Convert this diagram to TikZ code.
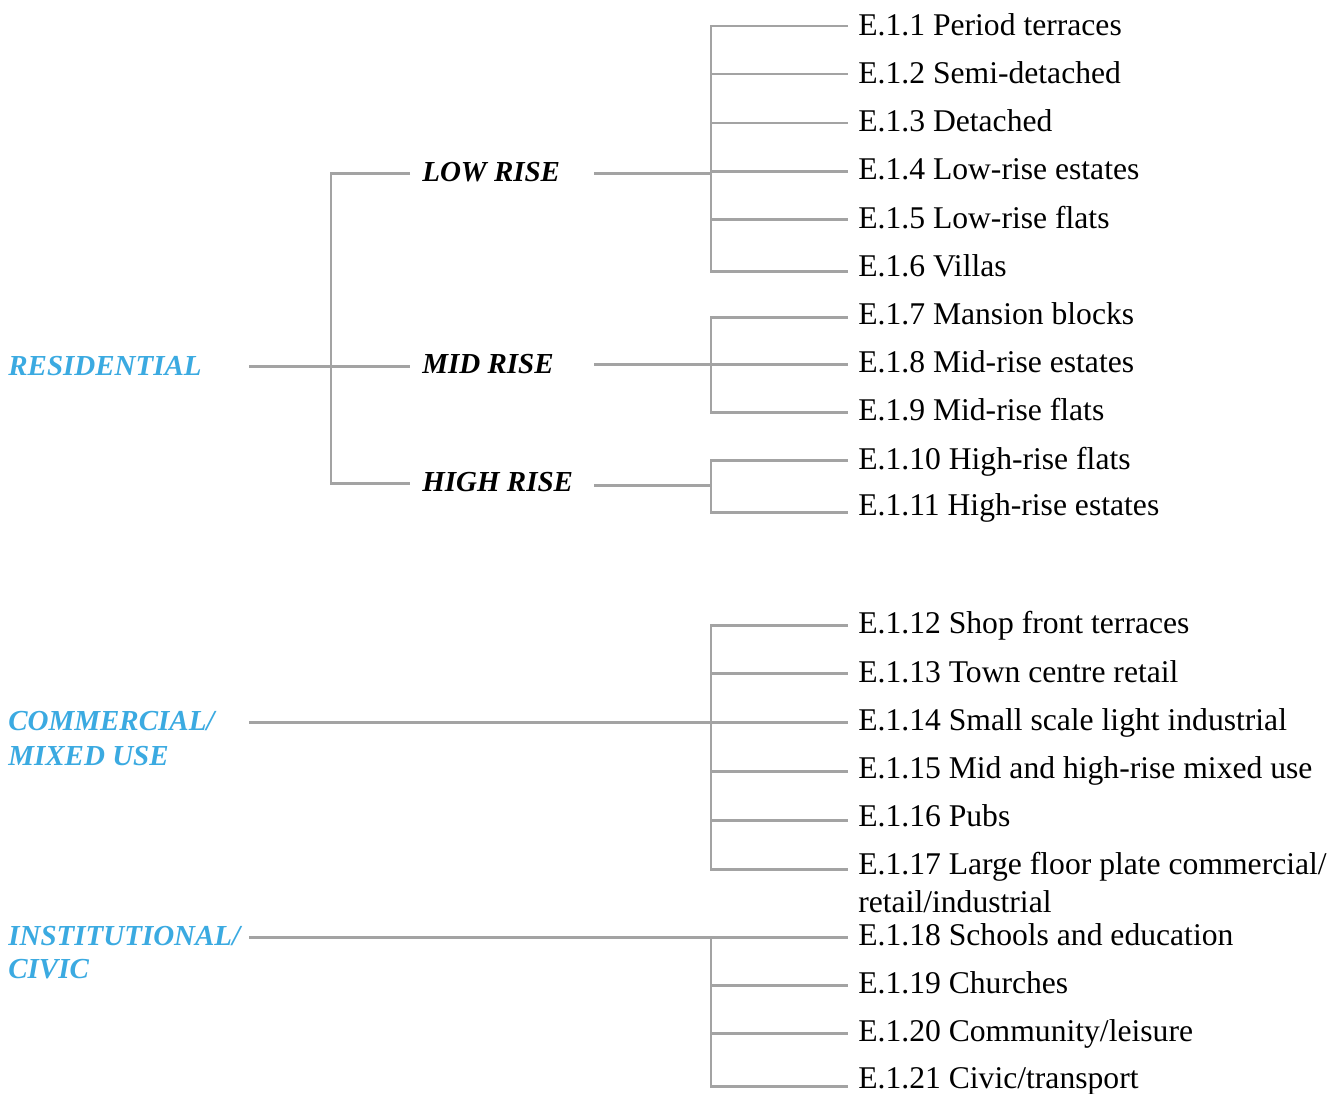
\documentclass[tikz,border=0pt]{standalone}
\usepackage{fontspec}
\setmainfont{Liberation Serif}
\usepackage{tikz}
\usepackage{xcolor}
\definecolor{catblue}{HTML}{3BAAE1}
\definecolor{linkgray}{HTML}{A3A3A3}

\begin{document}
\begin{tikzpicture}[x=0.02cm, y=-0.02cm,
    link/.style={draw=linkgray, line width=1.7pt},
    leaf/.style={anchor=base west, inner sep=0pt, font=\fontsize{18}{21.6}\selectfont},
    sub/.style={anchor=base west, inner sep=0pt, font=\fontsize{16.5}{20}\selectfont\bfseries\itshape},
    cat/.style={sub, text=catblue}]
        \useasboundingbox (0,0) rectangle (1343,1093);
        % main groups
        \node[cat] (res) at (8,375) {RESIDENTIAL};
        \node[cat] (com) at (8,730) {COMMERCIAL/};
        \node[cat] (comb) at (8,765) {MIXED USE};
        \node[cat] (ins) at (8,945) {INSTITUTIONAL/};
        \node[cat] (insb) at (8,978) {CIVIC};
        % residential heights
        \node[sub] (low) at (422,181) {LOW RISE};
        \node[sub] (mid) at (422,373) {MID RISE};
        \node[sub] (high) at (422,491) {HIGH RISE};
        % leaves: number / line y / baseline y / text
        \foreach \n/\y/\b/\t in {1/26/35/Period terraces, 2/74/83/Semi-detached,
            3/123/131/Detached, 4/171/179/Low-rise estates, 5/219/228/Low-rise flats,
            6/271/276/Villas, 7/317/324/Mansion blocks, 8/364/372/Mid-rise estates,
            9/412/420/Mid-rise flats, 10/460/469/High-rise flats, 11/512/515/High-rise estates,
            12/625/633/Shop front terraces, 13/673/682/Town centre retail,
            14/722/730/Small scale light industrial, 15/771/778/Mid and high-rise mixed use,
            16/820/826/Pubs, 17/869/874/{Large floor plate commercial/},
            18/937/945/Schools and education, 19/985/993/Churches,
            20/1033/1041/{Community/leisure}, 21/1086/1088/{Civic/transport}}{
          \coordinate (l\n) at (848,\y);
          \node[leaf] (e\n) at (858,\b) {E.1.\n\ \t};
        }
        \node[leaf] (e17b) at (858,912) {retail/industrial};
        % junctions and line ends
        \coordinate (resout) at (249,366);
        \coordinate (resj) at (331,366);
        \coordinate (lowin) at (410,173);
        \coordinate (midin) at (410,366);
        \coordinate (highin) at (410,483);
        \coordinate (lowout) at (594,173);
        \coordinate (midout) at (594,364);
        \coordinate (highout) at (594,485);
        \coordinate (lowj) at (711,173);
        \coordinate (midj) at (711,364);
        \coordinate (highj) at (711,485);
        \coordinate (comout) at (249,722);
        \coordinate (comj) at (711,722);
        \coordinate (insout) at (249,937);
        \coordinate (insj) at (711,937);
        % residential tree
        \draw[link] (resout) -- (midin);
        \draw[link] (lowin) -| (resj) |- (highin);
        \draw[link] (lowout) -- (lowj);
        \draw[link] (midout) -- (midj);
        \draw[link] (highout) -- (highj);
        \draw[link] (l1) -| (lowj) |- (l6);
        \foreach \n in {2,...,5}{\draw[link] (lowj |- l\n) -- (l\n);}
        \draw[link] (l7) -| (midj) |- (l9);
        \draw[link] (midj |- l8) -- (l8);
        \draw[link] (l10) -| (highj) |- (l11);
        % commercial tree
        \draw[link] (comout) -- (l14);
        \draw[link] (l12) -| (comj) |- (l17);
        \foreach \n in {13,15,16}{\draw[link] (comj |- l\n) -- (l\n);}
        % institutional tree
        \draw[link] (insout) -- (l18);
        \draw[link] (insj) |- (l21);
        \foreach \n in {19,20}{\draw[link] (insj |- l\n) -- (l\n);}
      \end{tikzpicture}
\end{document}
